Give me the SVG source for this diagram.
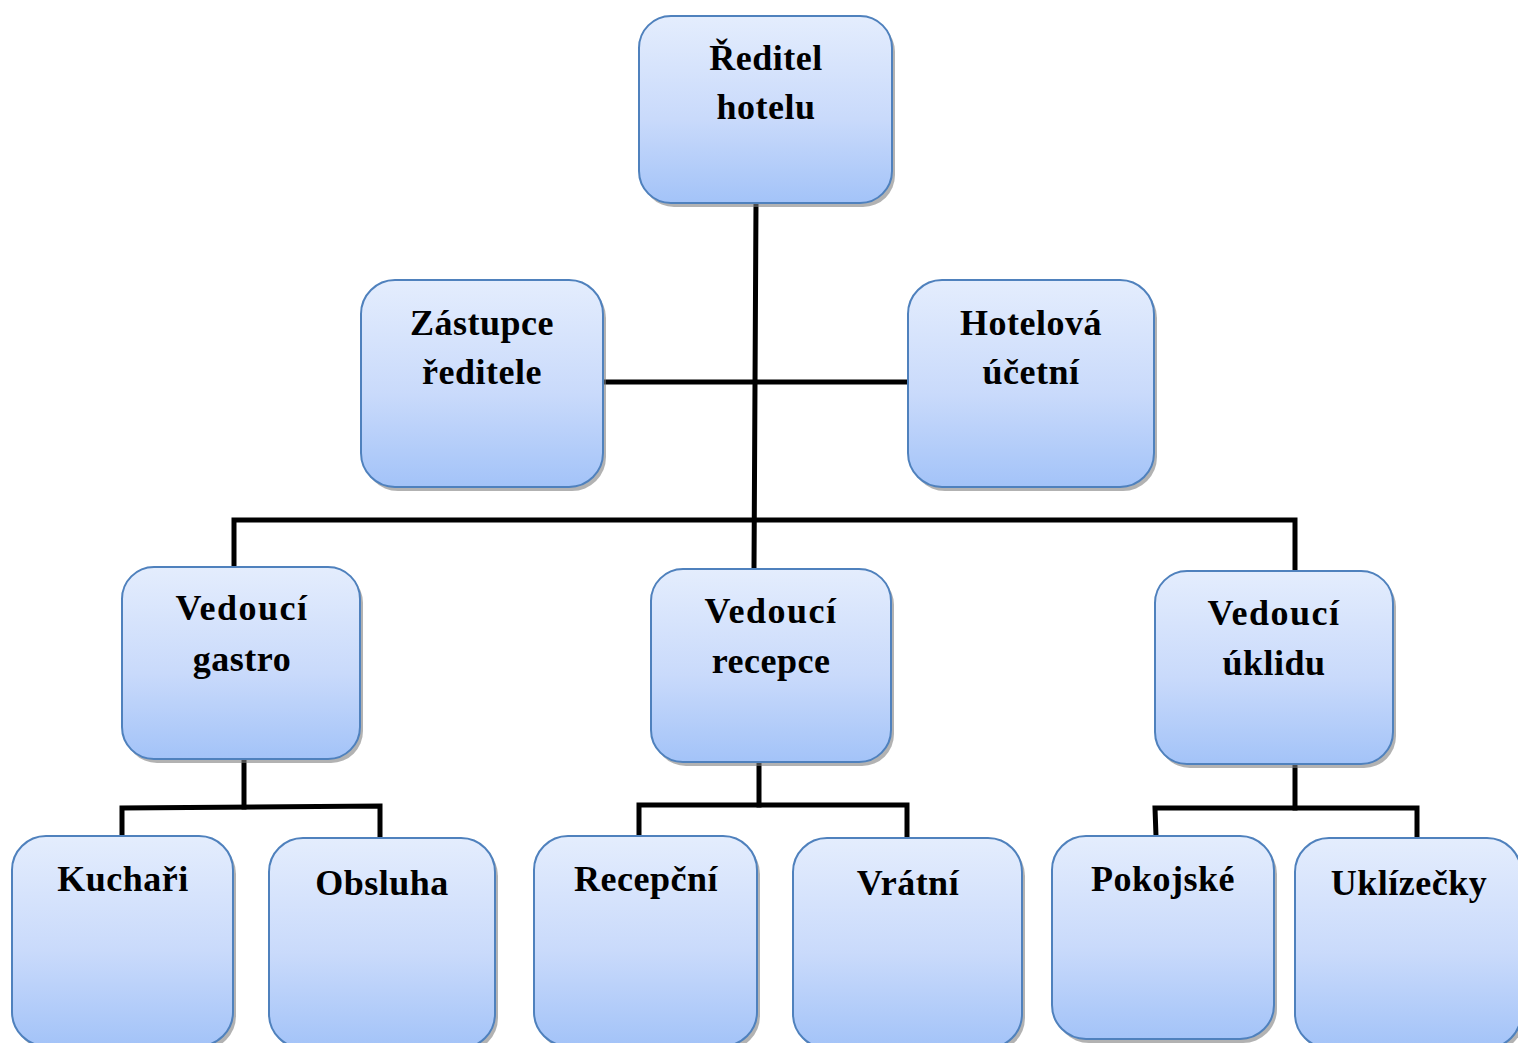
<svg xmlns="http://www.w3.org/2000/svg" width="1518" height="1043" viewBox="0 0 1518 1043">
<defs>
<linearGradient id="g" x1="0" y1="0" x2="0" y2="1">
<stop offset="0" stop-color="#e4edfd"/>
<stop offset="0.55" stop-color="#c9dafb"/>
<stop offset="1" stop-color="#a3c3f8"/>
</linearGradient>
<style>
.box{fill:url(#g);stroke:#4f81bd;stroke-width:2}
.sh{fill:#7f7f7f;opacity:0.6}
.t{font-family:"Liberation Serif","Times New Roman",serif;font-weight:bold;font-size:36px;fill:#000;text-anchor:middle;letter-spacing:0.5px}
.c{fill:none;stroke:#000;stroke-width:5;stroke-linecap:square}
</style>
</defs>
<rect width="1518" height="1043" fill="#fff"/>
<g id="connectors">
<path class="c" d="M756 203 L754 569"/>
<path class="c" d="M603 382 L908 382"/>
<path class="c" d="M234 565 L234 520 L1295 520 L1295 571"/>
<path class="c" d="M244 759 L244 807"/>
<path class="c" d="M122 836 L122 808 L380 806 L380 838"/>
<path class="c" d="M759 762 L759 805"/>
<path class="c" d="M639 836 L639 805 L907 805 L907 836"/>
<path class="c" d="M1295 764 L1295 808"/>
<path class="c" d="M1156 836 L1155 808 L1417 808 L1417 838"/>
</g>
<g id="n-reditel">
<rect class="sh" x="642" y="20" width="253" height="187" rx="32"/>
<rect class="box" x="639" y="16" width="253" height="187" rx="32"/>
<text class="t" x="766" y="70">Ředitel</text>
<text class="t" x="766" y="119">hotelu</text>
</g>
<g id="n-zastupce">
<rect class="sh" x="364" y="284" width="242" height="207" rx="34"/>
<rect class="box" x="361" y="280" width="242" height="207" rx="34"/>
<text class="t" x="482" y="335">Zástupce</text>
<text class="t" x="482" y="384">ředitele</text>
</g>
<g id="n-ucetni">
<rect class="sh" x="911" y="284" width="246" height="207" rx="34"/>
<rect class="box" x="908" y="280" width="246" height="207" rx="34"/>
<text class="t" x="1031" y="335">Hotelová</text>
<text class="t" x="1031" y="384">účetní</text>
</g>
<g id="n-gastro">
<rect class="sh" x="125" y="571" width="238" height="192" rx="32"/>
<rect class="box" x="122" y="567" width="238" height="192" rx="32"/>
<text class="t" x="242" y="620" style="letter-spacing:1.5px">Vedoucí</text>
<text class="t" x="242" y="671">gastro</text>
</g>
<g id="n-recepce">
<rect class="sh" x="654" y="573" width="240" height="193" rx="32"/>
<rect class="box" x="651" y="569" width="240" height="193" rx="32"/>
<text class="t" x="771" y="623" style="letter-spacing:1.5px">Vedoucí</text>
<text class="t" x="771" y="673">recepce</text>
</g>
<g id="n-uklid">
<rect class="sh" x="1158" y="575" width="238" height="193" rx="32"/>
<rect class="box" x="1155" y="571" width="238" height="193" rx="32"/>
<text class="t" x="1274" y="625" style="letter-spacing:1.5px">Vedoucí</text>
<text class="t" x="1274" y="675">úklidu</text>
</g>
<g id="n-kuchari">
<rect class="sh" x="15" y="840" width="221" height="210" rx="34"/>
<rect class="box" x="12" y="836" width="221" height="210" rx="34"/>
<text class="t" x="123" y="891">Kuchaři</text>
</g>
<g id="n-obsluha">
<rect class="sh" x="272" y="842" width="226" height="210" rx="34"/>
<rect class="box" x="269" y="838" width="226" height="210" rx="34"/>
<text class="t" x="382" y="895">Obsluha</text>
</g>
<g id="n-recepcni">
<rect class="sh" x="537" y="840" width="223" height="210" rx="34"/>
<rect class="box" x="534" y="836" width="223" height="210" rx="34"/>
<text class="t" x="646" y="891">Recepční</text>
</g>
<g id="n-vratni">
<rect class="sh" x="796" y="842" width="229" height="210" rx="34"/>
<rect class="box" x="793" y="838" width="229" height="210" rx="34"/>
<text class="t" x="908" y="895">Vrátní</text>
</g>
<g id="n-pokojske">
<rect class="sh" x="1055" y="840" width="222" height="203" rx="34"/>
<rect class="box" x="1052" y="836" width="222" height="203" rx="34"/>
<text class="t" x="1163" y="891">Pokojské</text>
</g>
<g id="n-uklizecky">
<rect class="sh" x="1298" y="842" width="226" height="210" rx="34"/>
<rect class="box" x="1295" y="838" width="226" height="210" rx="34"/>
<text class="t" x="1409" y="895">Uklízečky</text>
</g>
</svg>
